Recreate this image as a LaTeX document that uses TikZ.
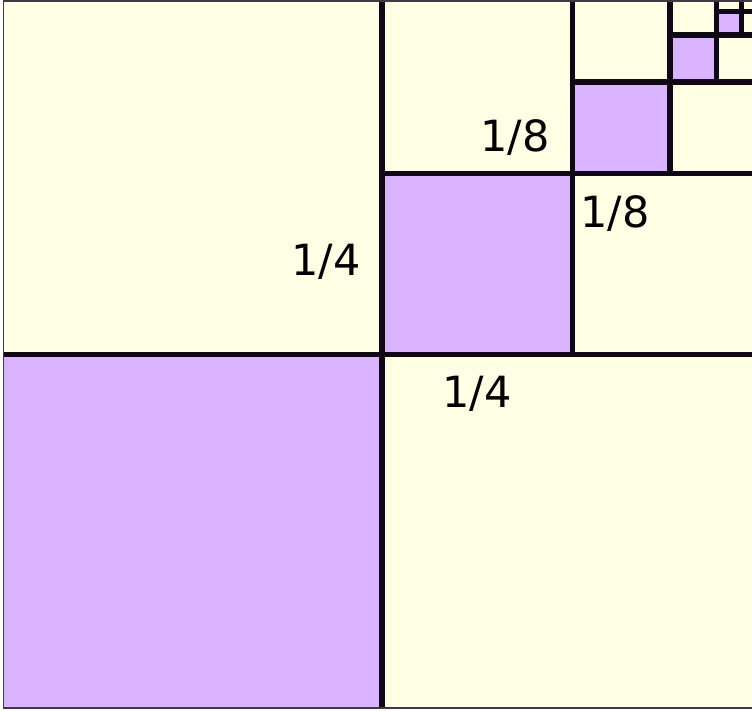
\documentclass[tikz,border=0pt]{standalone}
\usepackage{fontspec}
\setmainfont{DejaVu Sans}
\definecolor{cream}{RGB}{255,255,230}
\definecolor{lilac}{RGB}{218,179,255}
\definecolor{ink}{RGB}{16,8,20}
\begin{document}
\begin{tikzpicture}[x=1pt,y=-1pt,
  purplesq/.style={fill=lilac},
  divline/.style={draw=ink,line width=5.5pt},
  frame/.style={draw=ink!80,line width=1.6pt},
  frac/.style={font=\fontsize{43}{43}\selectfont,anchor=base,inner sep=0pt,text=black}]
\useasboundingbox (0,0) rectangle (752,710);
\fill[white] (0,0) rectangle (752,710);
\fill[cream] (3.5,1) rectangle (752,708);
% purple squares
\fill[purplesq] (3.5,354.5) rectangle (381.5,708);
\fill[purplesq] (381.5,173.5) rectangle (572.5,354.5);
\fill[purplesq] (572.5,82) rectangle (670,173.5);
\fill[purplesq] (670,35) rectangle (716.5,82);
\fill[purplesq] (716.5,11.5) rectangle (741.5,35);
% dividing lines
\draw[divline,line width=6pt] (381.5,0) -- (381.5,708);
\draw[divline] (3.5,354.5) -- (752,354.5);
\draw[divline] (572.5,0) -- (572.5,354.5);
\draw[divline] (381.5,173.5) -- (752,173.5);
\draw[divline] (670,0) -- (670,173.5);
\draw[divline] (572.5,82) -- (752,82);
\draw[divline] (716.5,0) -- (716.5,82);
\draw[divline] (670,35) -- (752,35);
\draw[divline,line width=5pt] (741.5,0) -- (741.5,35);
\draw[divline,line width=4.5pt] (716.5,11.5) -- (752,11.5);
% outer frame
\draw[frame] (752,1) -- (3.5,1) -- (3.5,708) -- (752,708);
% labels
\node[frac] (qa) at (326,275) {1/4};
\node[frac] (qb) at (477,407) {1/4};
\node[frac] (ea) at (515,151) {1/8};
\node[frac] (eb) at (615,227) {1/8};
\end{tikzpicture}
\end{document}
